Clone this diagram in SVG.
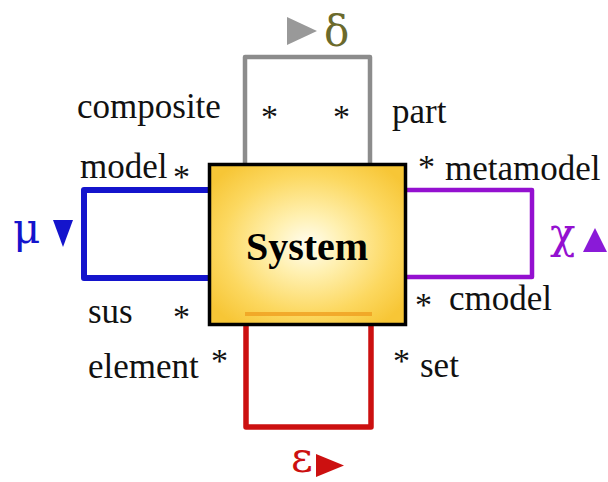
<svg xmlns="http://www.w3.org/2000/svg" width="608" height="482" viewBox="0 0 608 482">
<defs>
<radialGradient id="sysfill" cx="0.5" cy="0.5" r="0.62">
<stop offset="0" stop-color="#fffdf0"/>
<stop offset="0.3" stop-color="#fff0b0"/>
<stop offset="0.7" stop-color="#fcd860"/>
<stop offset="1" stop-color="#f7c636"/>
</radialGradient>
<style>
.lbl{font-family:"Liberation Serif","Times New Roman",serif;font-size:35px;fill:#111;}
.ast{font-family:"Liberation Serif","Times New Roman",serif;font-size:34px;fill:#111;}
.greek{font-family:"DejaVu Serif","Liberation Serif",serif;font-size:42px;}
.loop{fill:none;stroke-linejoin:round;}
</style>
</defs>
<rect width="608" height="482" fill="#fff"/>
<g id="connectors">
<polyline class="loop" points="245,165 245,57 370,57 370,165" stroke="#8c8c8c" stroke-width="4.5"/>
<polyline class="loop" points="210,190 84,190 84,278 210,278" stroke="#1414cc" stroke-width="6"/>
<polyline class="loop" points="405,190 532,190 532,277 405,277" stroke="#9410d0" stroke-width="4.5"/>
<polyline class="loop" points="246,324 246,427 371,427 371,324" stroke="#cc1010" stroke-width="5.5"/>
</g>
<g id="system">
<rect x="209.5" y="164.5" width="196" height="160" fill="url(#sysfill)" stroke="#000" stroke-width="3.5"/>
<line x1="245" y1="314" x2="372" y2="314" stroke="#f0a020" stroke-width="4" opacity="0.8"/>
<text x="307" y="260" text-anchor="middle" font-family="Liberation Serif, Times New Roman, serif" font-size="40" font-weight="bold" fill="#000">System</text>
</g>
<g id="delta">
<polygon points="287,17 317,31 287,45" fill="#999"/>
<text class="greek" x="324" y="46" fill="#6b6a2c">δ</text>
</g>
<g id="mu">
<text class="greek" x="13" y="243" fill="#1414cc">μ</text>
<polygon points="53,220 73,220 63,247" fill="#1414cc"/>
</g>
<g id="chi">
<text class="greek" x="550" y="248" fill="#9410d0">χ</text>
<polygon points="583,252 607,252 595,228" fill="#8a1ad8"/>
</g>
<g id="epsilon">
<text class="greek" x="291" y="472" font-size="38" fill="#cc1010">ε</text>
<polygon points="316,454 344,465.5 316,477" fill="#cc1010"/>
</g>
<g id="labels">
<text class="lbl" x="77" y="118">composite</text>
<text class="lbl" x="80" y="178">model</text>
<text class="ast" x="173" y="188">*</text>
<text class="ast" x="261" y="128">*</text>
<text class="ast" x="333" y="128">*</text>
<text class="lbl" x="392" y="123">part</text>
<text class="ast" x="418" y="178">*</text>
<text class="lbl" x="445" y="180">metamodel</text>
<text class="lbl" x="88" y="323">sus</text>
<text class="ast" x="173" y="328">*</text>
<text class="ast" x="415" y="316">*</text>
<text class="lbl" x="449" y="310">cmodel</text>
<text class="lbl" x="88" y="378">element</text>
<text class="ast" x="211" y="372">*</text>
<text class="ast" x="393" y="372">*</text>
<text class="lbl" x="420" y="377">set</text>
</g>
</svg>
